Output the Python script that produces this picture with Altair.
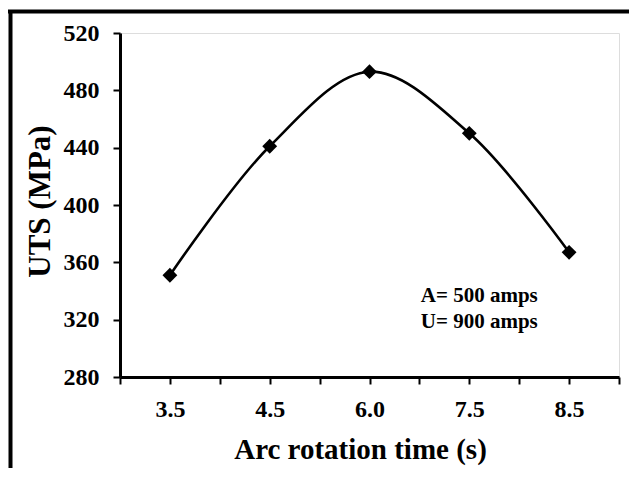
import altair as alt
import pandas as pd

# ---- data ----
categories = ["3.5", "4.5", "6.0", "7.5", "8.5"]
uts = [351, 441, 493, 450, 367]
y_ticks = [280, 300, 320, 340, 360, 380, 400, 420, 440, 460, 480, 500, 520]
x_ticks = [0, 1, 2, 3, 4, 5, 6, 7, 8, 9, 10]
note_lines = ["A= 500 amps", "U= 900 amps"]
note_y = [332, 314]
note_x = [7.2, 7.2]

positions = [2 * i + 1 for i in range(len(categories))]
df = pd.DataFrame({"pos": positions, "cat": categories, "uts": uts})
notes = pd.DataFrame({"x": note_x, "y": note_y, "t": note_lines})
one = pd.DataFrame({"a": [0]})

label_expr = ""
for p, c in zip(positions, categories):
    label_expr += f"datum.value == {p} ? '{c}' : "
label_expr += "''"

FONT = "Liberation Serif"
W, H = 499, 344

xscale = alt.Scale(domain=[0, 10], nice=False, zero=False)
yscale = alt.Scale(domain=[280, 520], nice=False, zero=False)

xaxis = alt.Axis(values=x_ticks, labelExpr=label_expr, title="Arc rotation time (s)",
                 grid=False, tickSize=7, tickWidth=2, domainWidth=3, domainColor="black",
                 tickColor="black", labelFont=FONT, labelFontWeight="bold", labelFontSize=24,
                 labelColor="black", labelPadding=13, titleFont=FONT, titleFontWeight="bold",
                 titleFontSize=29, titleColor="black", titleX=240, titleY=81,
                 titleBaseline="alphabetic", titleAlign="center", labelFlush=False,
                 labelOverlap=False)
yaxis = alt.Axis(values=y_ticks, labelExpr="datum.value % 40 == 0 ? datum.label : ''",
                 title="UTS (MPa)", grid=False, tickSize=7, tickWidth=2, domainWidth=3,
                 domainColor="black", tickColor="black", labelFont=FONT,
                 labelFontWeight="bold", labelFontSize=24, labelColor="black",
                 labelPadding=14, titleFont=FONT, titleFontWeight="bold", titleFontSize=31,
                 titleColor="black", titleX=-80, titleY=168, titleBaseline="middle",
                 titleAlign="center", labelFlush=False, labelOverlap=False)

base = alt.Chart(df)
line = base.mark_line(interpolate="catmull-rom", color="black", strokeWidth=2.6).encode(
    x=alt.X("pos:Q", scale=xscale, axis=xaxis),
    y=alt.Y("uts:Q", scale=yscale, axis=yaxis),
)
pts = base.mark_point(shape="diamond", filled=True, color="black", size=220, opacity=1).encode(
    x=alt.X("pos:Q", scale=xscale),
    y=alt.Y("uts:Q", scale=yscale),
)
txt = alt.Chart(notes).mark_text(font=FONT, fontWeight="bold", fontSize=21, color="black",
                                 align="center", baseline="alphabetic").encode(
    x=alt.X("x:Q", scale=xscale),
    y=alt.Y("y:Q", scale=yscale),
    text="t:N",
)
frame_top = alt.Chart(one).mark_rule(color="black", strokeWidth=4, clip=False).encode(
    x=alt.value(-112), x2=alt.value(509), y=alt.value(-21.5)
)
frame_left = alt.Chart(one).mark_rule(color="black", strokeWidth=4, clip=False).encode(
    x=alt.value(-109.5), y=alt.value(-23), y2=alt.value(436)
)

chart = alt.layer(line, pts, txt, frame_top, frame_left).properties(
    width=W, height=H,
    autosize=alt.AutoSizeParams(type="none"),
    padding={"left": 112, "top": 25, "right": 10, "bottom": 91},
).configure_view(stroke="#333333", strokeWidth=2).configure(background="white")

chart.save("out.html", embed_options={"renderer": "svg", "actions": False})
